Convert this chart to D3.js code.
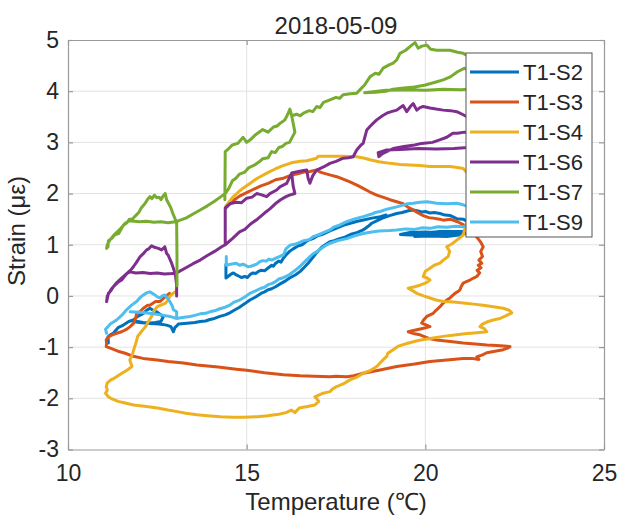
<!DOCTYPE html>
<html><head><meta charset="utf-8">
<script src="https://cdn.jsdelivr.net/npm/d3@7"></script>
<style>
body{margin:0;background:#fff}
svg{display:block}
text{font-family:"Liberation Sans",Arial,Helvetica,sans-serif;fill:#262626}
</style>
</head><body>
<svg id="chart" width="618" height="517"></svg>
<script>
const titleText = "2018-05-09";
const xLabel = "Temperature (℃)";
const yLabel = "Strain (με)";
const xTicks = [10, 15, 20, 25];
const yTicks = [-3, -2, -1, 0, 1, 2, 3, 4, 5];
const seriesNames = ["T1-S2", "T1-S3", "T1-S4", "T1-S6", "T1-S7", "T1-S9"];
const seriesColors = ["#0072BD", "#D95319", "#EDB120", "#7E2F8E", "#77AC30", "#4DBEEE"];

// [temperature, strain]; null = gap in record
const s2 = [[11.13,-0.92],[11.12,-0.8],[11.2,-0.75],[11.27,-0.73],[11.4,-0.62],[11.55,-0.57],[11.7,-0.5],[11.83,-0.47],[11.95,-0.4],[12.11,-0.34],[12.2,-0.28],[12.29,-0.24],[12.38,-0.28],[12.48,-0.31],[12.58,-0.36],[12.67,-0.4],[12.6,-0.5],[12.45,-0.52],[12.29,-0.53],[12.1,-0.52],[11.95,-0.5],[11.83,-0.5],[12.0,-0.52],[12.3,-0.54],[12.55,-0.55],[12.76,-0.57],[12.88,-0.6],[12.95,-0.7],[12.99,-0.62],[13.05,-0.58],[13.09,-0.55],[13.25,-0.54],[13.41,-0.53],[13.55,-0.52],[13.7,-0.5],[13.85,-0.49],[13.97,-0.46],[14.1,-0.44],[14.25,-0.4],[14.4,-0.37],[14.53,-0.33],[14.65,-0.28],[14.8,-0.22],[14.95,-0.15],[15.09,-0.08],[15.25,-0.02],[15.4,0.05],[15.5,0.08],[15.6,0.12],[15.7,0.14],[15.81,0.18],[15.9,0.22],[16.0,0.26],[16.1,0.3],[16.2,0.35],[16.36,0.41],[16.5,0.48],[16.6,0.55],[16.72,0.64],[16.85,0.75],[16.95,0.84],[17.1,0.95],[17.2,1.0],[17.33,1.06],[17.45,1.08],[17.6,1.12],[17.75,1.15],[17.9,1.2],[18.1,1.24],[18.26,1.29],[18.4,1.36],[18.5,1.42],[18.65,1.47],[18.8,1.52],[19.0,1.57],[19.2,1.61],[19.35,1.63],[19.45,1.65],[19.55,1.67],[19.66,1.68],[19.8,1.66],[19.9,1.64],[20.0,1.65],[20.13,1.62],[20.25,1.63],[20.41,1.61],[20.55,1.58],[20.7,1.57],[20.88,1.51],[21.06,1.5],[21.3,1.4],[21.4,1.3],[21.2,1.22],[21.06,1.22],[20.7,1.2],[20.3,1.21],[19.9,1.19],[19.57,1.19],[19.3,1.2],[19.57,1.24],[20.0,1.25],[20.5,1.23],[21.06,1.2],[20.6,1.16],[20.1,1.17],[19.7,1.16],[19.9,1.22],[20.4,1.26],[21.06,1.26],
  null,
  [14.42,0.62],[14.42,0.35],[14.55,0.42],[14.63,0.45],[14.71,0.41],[14.8,0.38],[14.85,0.36],[14.95,0.38],[15.02,0.36],[15.1,0.42],[15.18,0.45],[15.26,0.44],[15.33,0.48],[15.4,0.5],[15.5,0.49],[15.59,0.54],[15.7,0.6],[15.75,0.58],[15.81,0.64],[15.9,0.68],[15.96,0.66],[16.03,0.74],[16.1,0.8],[16.2,0.87],[16.3,0.92],[16.45,0.98],[16.55,1.0],[16.7,1.08],[16.85,1.12],[17.0,1.18],[17.15,1.21],[17.33,1.27],[17.5,1.32],[17.7,1.38],[17.9,1.42],[18.1,1.46],[18.3,1.49],[18.5,1.52],[18.7,1.54],[18.9,1.58]];

const s3 = [[14.42,1.72],[14.6,1.85],[14.8,1.95],[15.0,2.02],[15.15,2.07],[15.4,2.15],[15.6,2.2],[15.81,2.27],[16.03,2.3],[16.25,2.36],[16.4,2.38],[16.6,2.42],[16.77,2.43],[16.96,2.46],[17.05,2.42],[17.15,2.4],[17.35,2.36],[17.52,2.33],[17.7,2.28],[17.89,2.23],[18.1,2.16],[18.26,2.1],[18.45,2.03],[18.64,1.97],[18.85,1.92],[19.01,1.88],[19.2,1.84],[19.38,1.8],[19.55,1.72],[19.66,1.68],[19.8,1.62],[19.94,1.57],[20.1,1.53],[20.22,1.52],[20.4,1.5],[20.5,1.48],[20.69,1.5],[20.9,1.45],[21.1,1.38],[21.3,1.3],[21.44,1.15],[21.55,1.05],[21.62,0.96],[21.55,0.87],[21.6,0.77],[21.5,0.7],[21.58,0.64],[21.48,0.6],[21.56,0.55],[21.45,0.5],[21.52,0.45],[21.44,0.38],[21.35,0.35],[21.25,0.31],[21.15,0.28],[21.06,0.25],[21.0,0.18],[20.97,0.12],[20.9,0.08],[20.83,0.05],[20.75,0.0],[20.69,-0.04],[20.6,-0.08],[20.5,-0.14],[20.41,-0.21],[20.3,-0.28],[20.22,-0.34],[20.1,-0.38],[20.04,-0.4],[19.95,-0.47],[19.9,-0.53],[20.13,-0.6],[19.95,-0.63],[19.76,-0.66],[19.52,-0.7],[19.7,-0.74],[19.85,-0.76],[20.1,-0.83],[20.32,-0.86],[20.7,-0.89],[21.06,-0.92],[21.4,-0.94],[21.72,-0.96],[22.0,-0.97],[22.2,-0.98],[22.37,-0.99],[22.3,-1.02],[22.18,-1.05],[21.95,-1.08],[21.72,-1.11],[21.6,-1.15],[21.44,-1.19],[21.5,-1.24],[21.3,-1.22],[21.06,-1.22],[20.6,-1.25],[20.13,-1.28],[19.7,-1.33],[19.2,-1.38],[18.7,-1.45],[18.26,-1.51],[18.0,-1.56],[17.8,-1.58],[17.5,-1.57],[17.33,-1.58],[16.9,-1.57],[16.5,-1.56],[16.03,-1.54],[15.5,-1.5],[15.0,-1.45],[14.71,-1.43],[14.2,-1.39],[13.61,-1.35],[13.23,-1.31],[12.8,-1.28],[12.5,-1.25],[12.1,-1.22],[11.83,-1.18],[11.6,-1.12],[11.4,-1.08],[11.29,-1.05],[11.15,-1.01],[11.07,-0.99],[11.08,-0.92],[11.07,-0.86],[11.13,-0.8],[11.24,-0.76],[11.36,-0.73],[11.5,-0.7],[11.62,-0.66],[11.74,-0.6],[11.84,-0.53],[11.9,-0.42],[11.92,-0.34],[12.01,-0.31],[12.11,-0.24],[12.23,-0.18],[12.29,-0.18],[12.45,-0.11],[12.57,-0.11],[12.65,-0.06],[12.73,-0.01],[12.84,0.05]];

const s4 = [[14.42,1.76],[14.6,1.92],[14.8,2.05],[14.93,2.12],[15.1,2.2],[15.3,2.3],[15.59,2.41],[15.8,2.48],[16.0,2.54],[16.25,2.6],[16.5,2.63],[16.68,2.64],[16.85,2.67],[16.96,2.69],[17.0,2.73],[17.33,2.73],[17.7,2.73],[18.08,2.72],[18.3,2.69],[18.45,2.66],[18.7,2.62],[19.01,2.59],[19.3,2.57],[19.57,2.56],[19.85,2.55],[20.13,2.53],[20.4,2.53],[20.69,2.53],[20.9,2.51],[21.06,2.49],[21.3,2.3],[21.4,2.0],[21.3,1.7],[21.2,1.5],[21.1,1.3],[21.06,1.19],[20.88,1.09],[20.75,1.02],[20.6,0.96],[20.68,0.87],[20.64,0.77],[20.5,0.7],[20.41,0.64],[20.25,0.6],[20.13,0.54],[20.0,0.48],[19.94,0.38],[20.05,0.35],[20.13,0.31],[20.0,0.25],[19.85,0.21],[19.7,0.18],[19.52,0.15],[19.65,0.1],[19.76,0.05],[19.95,0.0],[20.13,-0.04],[20.3,-0.08],[20.5,-0.11],[20.8,-0.12],[21.06,-0.14],[21.35,-0.16],[21.62,-0.18],[21.9,-0.21],[22.18,-0.24],[22.35,-0.28],[22.42,-0.33],[22.25,-0.39],[22.09,-0.44],[21.9,-0.47],[21.72,-0.51],[21.6,-0.55],[21.53,-0.6],[21.65,-0.64],[21.72,-0.7],[21.44,-0.72],[21.1,-0.74],[20.88,-0.76],[20.5,-0.79],[20.13,-0.83],[19.8,-0.87],[19.48,-0.93],[19.25,-0.98],[19.1,-1.05],[18.95,-1.12],[18.92,-1.18],[18.8,-1.26],[18.64,-1.38],[18.45,-1.46],[18.26,-1.51],[18.1,-1.58],[17.89,-1.64],[17.7,-1.72],[17.52,-1.77],[17.4,-1.82],[17.33,-1.87],[17.14,-1.9],[16.91,-1.97],[17.02,-2.06],[16.91,-2.13],[16.7,-2.16],[16.47,-2.19],[16.35,-2.28],[16.25,-2.23],[16.1,-2.28],[15.9,-2.31],[15.59,-2.34],[15.3,-2.36],[14.93,-2.37],[14.6,-2.37],[14.27,-2.36],[13.9,-2.34],[13.61,-2.32],[13.3,-2.29],[13.06,-2.26],[12.8,-2.23],[12.5,-2.19],[12.2,-2.16],[11.84,-2.13],[11.6,-2.09],[11.4,-2.06],[11.2,-2.0],[11.13,-1.97],[11.05,-1.9],[11.1,-1.84],[11.07,-1.77],[11.1,-1.7],[11.2,-1.64],[11.29,-1.61],[11.4,-1.56],[11.51,-1.51],[11.65,-1.45],[11.79,-1.38],[11.73,-1.25],[11.8,-1.15],[11.84,-1.05],[11.9,-0.92],[11.95,-0.79],[12.05,-0.7],[12.17,-0.6],[12.25,-0.5],[12.34,-0.4],[12.4,-0.3],[12.5,-0.21],[12.6,-0.18],[12.73,-0.14],[12.8,-0.08],[12.85,-0.01],[12.94,0.05],[13.0,0.08]];

const s6 = [[13.04,0.0],[13.04,0.21],[13.0,0.44],[12.9,0.64],[12.8,0.8],[12.76,0.83],[12.71,0.96],[12.62,0.9],[12.53,0.93],[12.42,0.95],[12.34,0.98],[12.26,0.92],[12.2,0.9],[12.1,0.82],[12.02,0.77],[11.92,0.66],[11.83,0.57],[11.75,0.5],[11.69,0.47],[11.6,0.4],[11.5,0.31],[11.4,0.27],[11.27,0.18],[11.2,0.1],[11.13,0.05],[11.1,-0.05],[11.08,-0.11],[11.1,0.0],[11.2,0.12],[11.35,0.25],[11.5,0.35],[11.65,0.44],[11.74,0.47],[11.9,0.45],[12.1,0.46],[12.3,0.44],[12.5,0.45],[12.7,0.43],[12.9,0.44],[13.05,0.45],[13.09,0.47],[13.3,0.55],[13.5,0.63],[13.7,0.7],[13.9,0.79],[14.1,0.87],[14.3,0.96],[14.4,1.0],[14.6,1.12],[14.8,1.25],[14.95,1.3],[15.1,1.4],[15.3,1.5],[15.5,1.62],[15.65,1.7],[15.8,1.8],[15.95,1.88],[16.1,1.94],[16.2,1.97],[16.35,2.0],[16.3,2.15],[16.26,2.4],[16.12,2.2],[15.93,2.13],[15.84,2.07],[15.65,2.0],[15.56,1.94],[15.4,1.98],[15.28,2.0],[15.15,1.93],[15.0,1.91],[14.85,1.82],[14.7,1.83],[14.53,1.8],[14.4,1.72],[14.4,1.0],
  null,
  [16.26,2.4],[16.45,2.43],[16.68,2.46],[16.72,2.3],[16.77,2.2],[16.85,2.35],[16.96,2.46],[17.15,2.52],[17.33,2.59],[17.5,2.63],[17.7,2.69],[17.85,2.7],[17.98,2.72],[18.08,2.85],[18.2,2.95],[18.26,2.98],[18.36,3.24],[18.45,3.31],[18.55,3.38],[18.64,3.44],[18.8,3.52],[18.92,3.57],[19.05,3.6],[19.2,3.63],[19.3,3.68],[19.38,3.72],[19.48,3.6],[19.58,3.7],[19.66,3.76],[19.76,3.63],[19.85,3.68],[19.94,3.7],[20.13,3.67],[20.3,3.65],[20.5,3.63],[20.7,3.62],[20.88,3.6],[21.06,3.54],[21.3,3.45],[21.5,3.3],[21.55,3.2],[21.3,3.15],[21.1,3.2],[20.9,3.18],[20.77,3.18],[20.6,3.1],[20.4,3.05],[20.2,3.0],[19.9,2.98],[19.7,2.95],[19.4,2.92],[19.1,2.88],[18.92,2.82],[18.8,2.78],[18.7,2.72],[18.68,2.8],[18.9,2.85],[19.3,2.86],[19.8,2.88],[20.3,2.87],[20.8,2.88],[21.2,2.9],[21.5,2.92]];

const s7 = [[13.05,0.2],[13.05,0.8],[13.04,1.45],[13.0,1.5],[12.94,1.6],[12.88,1.72],[12.82,1.8],[12.76,1.88],[12.72,2.0],[12.66,1.95],[12.6,1.88],[12.55,1.93],[12.48,1.92],[12.42,1.97],[12.35,1.9],[12.29,1.94],[12.22,1.88],[12.15,1.8],[12.06,1.73],[11.98,1.63],[11.88,1.56],[11.8,1.5],[11.72,1.5],[11.65,1.43],[11.55,1.38],[11.5,1.32],[11.42,1.22],[11.32,1.2],[11.22,1.12],[11.13,1.08],[11.12,0.96],[11.08,0.93],[11.1,1.0],[11.18,1.1],[11.3,1.2],[11.45,1.3],[11.6,1.42],[11.72,1.47],[11.85,1.46],[12.0,1.45],[12.2,1.46],[12.4,1.44],[12.6,1.45],[12.8,1.43],[13.0,1.45],[13.1,1.47],[13.3,1.52],[13.5,1.6],[13.7,1.68],[13.9,1.76],[14.1,1.85],[14.3,1.95],[14.4,2.0],[14.5,2.1],[14.6,2.25],[14.7,2.3],[14.8,2.38],[14.95,2.42],[15.05,2.5],[15.2,2.55],[15.35,2.62],[15.45,2.68],[15.6,2.7],[15.7,2.82],[15.8,2.8],[15.9,2.9],[16.0,2.92],[16.1,2.98],[16.2,3.0],[16.35,3.2],[16.26,3.52],
  null,
  [14.39,1.88],[14.4,2.82],[14.5,2.88],[14.6,2.95],[14.75,2.98],[14.9,3.1],[15.0,3.0],[15.1,3.05],[15.25,3.15],[15.45,3.25],[15.6,3.2],[15.75,3.3],[15.85,3.32],[15.95,3.38],[16.07,3.44],[16.15,3.55],[16.21,3.65],[16.26,3.52],[16.4,3.55],[16.5,3.52],[16.59,3.57],[16.75,3.62],[16.85,3.6],[16.96,3.7],[17.05,3.68],[17.15,3.78],[17.33,3.83],[17.5,3.88],[17.6,3.86],[17.7,3.93],[17.9,3.95],[18.08,3.96],[18.2,4.05],[18.3,4.12],[18.45,4.28],[18.6,4.35],[18.7,4.33],[18.82,4.45],[19.0,4.52],[19.1,4.55],[19.2,4.61],[19.29,4.74],[19.45,4.8],[19.62,4.9],[19.71,4.95],[19.8,4.84],[19.9,4.88],[20.04,4.9],[20.15,4.82],[20.32,4.8],[20.5,4.8],[20.69,4.8],[20.9,4.76],[21.06,4.74],[21.3,4.65],[21.5,4.5],[21.6,4.4],[21.3,4.35],[21.1,4.45],[20.9,4.38],[20.7,4.28],[20.5,4.22],[20.3,4.18],[20.0,4.12],[19.7,4.08],[19.4,4.06],[19.1,4.04],[18.9,4.0],[18.6,3.98],[18.3,3.97],[18.9,4.02],[19.5,4.03],[20.0,4.02],[20.5,4.04],[21.0,4.03],[21.4,4.05]];

const s9 = [[11.08,-0.73],[11.05,-0.65],[11.12,-0.6],[11.18,-0.55],[11.36,-0.47],[11.5,-0.38],[11.64,-0.27],[11.78,-0.18],[11.92,-0.11],[12.02,-0.03],[12.11,0.02],[12.2,0.06],[12.29,0.08],[12.36,0.05],[12.43,0.02],[12.5,-0.02],[12.57,-0.04],[12.64,0.0],[12.71,0.02],[12.78,-0.04],[12.85,-0.11],[12.92,-0.2],[12.95,-0.27],[13.04,-0.31],[13.04,-0.44],[13.2,-0.42],[13.41,-0.4],[13.55,-0.38],[13.7,-0.35],[13.85,-0.34],[13.97,-0.31],[14.1,-0.29],[14.25,-0.25],[14.4,-0.22],[14.53,-0.18],[14.65,-0.12],[14.8,-0.08],[14.95,-0.02],[15.09,0.05],[15.25,0.1],[15.4,0.15],[15.5,0.17],[15.6,0.22],[15.7,0.24],[15.81,0.28],[15.9,0.33],[16.0,0.35],[16.1,0.38],[16.2,0.42],[16.36,0.5],[16.5,0.58],[16.6,0.65],[16.7,0.72],[16.85,0.82],[16.95,0.86],[17.1,0.93],[17.2,0.98],[17.33,1.03],[17.55,1.08],[17.8,1.12],[18.0,1.17],[18.26,1.22],[18.5,1.25],[18.7,1.27],[19.0,1.28],[19.2,1.29],[19.45,1.31],[19.7,1.3],[19.9,1.33],[20.13,1.32],[20.35,1.35],[20.6,1.34],[20.85,1.36],[21.06,1.35],[21.4,1.45],[21.5,1.6],[21.3,1.72],[21.06,1.78],[20.88,1.81],[20.6,1.8],[20.32,1.81],[20.15,1.83],[20.04,1.84],[19.85,1.83],[19.66,1.81],[19.5,1.8],[19.4,1.78],[19.2,1.74],[18.95,1.7],[18.73,1.65],[18.6,1.63],[18.5,1.6],[18.26,1.55],[18.1,1.52],[18.0,1.5],[17.8,1.45],[17.55,1.37],[17.45,1.35],[17.33,1.29],[17.1,1.22],[16.87,1.16],[16.75,1.1],[16.6,1.08],[16.4,1.02],[16.21,0.99],[16.1,0.92],[16.03,0.8],[15.95,0.78],[15.85,0.75],[15.7,0.7],[15.62,0.72],[15.55,0.68],[15.45,0.69],[15.37,0.67],[15.28,0.62],[15.2,0.6],[15.12,0.58],[15.04,0.57],[14.9,0.62],[14.8,0.6],[14.71,0.64],[14.55,0.62],[14.43,0.6],[14.43,0.77],
  null,
  [11.74,-0.31],[12.0,-0.32],[12.29,-0.34],[12.6,-0.37],[12.85,-0.4],[13.04,-0.44]];

const seriesData = [s2, s3, s4, s6, s7, s9];

const W = 618, H = 517;
const margin = {left: 68, right: 14, top: 40, bottom: 67.5};
const svg = d3.select("#chart");
const x = d3.scaleLinear().domain([10, 25]).range([margin.left, W - margin.right]);
const y = d3.scaleLinear().domain([-3, 5]).range([H - margin.bottom, margin.top]);
const x0 = x.range()[0], x1 = x.range()[1], y0 = y.range()[0], y1 = y.range()[1];
const fmt = d => String(d);

// grid
const grid = svg.append("g").attr("stroke", "#e3e3e3").attr("stroke-width", 1);
grid.selectAll("line.gx").data(xTicks.slice(1, -1)).join("line")
  .attr("x1", d => x(d)).attr("x2", d => x(d)).attr("y1", y1).attr("y2", y0);
grid.selectAll("line.gy").data(yTicks.slice(1, -1)).join("line")
  .attr("x1", x0).attr("x2", x1).attr("y1", d => y(d)).attr("y2", d => y(d));

// data
svg.append("defs").append("clipPath").attr("id", "clip")
  .append("rect").attr("x", x0).attr("y", y1).attr("width", x1 - x0).attr("height", y0 - y1);
const line = d3.line().defined(d => d !== null).x(d => x(d[0])).y(d => y(d[1]));
svg.append("g").attr("clip-path", "url(#clip)")
  .selectAll("path").data(seriesData).join("path")
  .attr("d", d => line(d))
  .attr("fill", "none")
  .attr("stroke", (d, i) => seriesColors[i])
  .attr("stroke-width", 3)
  .attr("stroke-linejoin", "round")
  .attr("stroke-linecap", "round");

// axes
const axisColor = "#9a9a9a";
function styleAxis(g) {
  g.select(".domain").attr("stroke", axisColor).attr("stroke-width", 1.2);
  g.selectAll(".tick line").attr("stroke", axisColor).attr("stroke-width", 1.2);
  g.selectAll(".tick text").attr("fill", "#262626").style("font-size", "23px")
    .style("font-family", '"Liberation Sans", Arial, sans-serif');
}
svg.append("g").attr("transform", `translate(0,${y0})`)
  .call(d3.axisBottom(x).tickValues(xTicks).tickFormat(fmt).tickSize(-5).tickSizeOuter(0).tickPadding(15))
  .call(styleAxis);
svg.append("g").attr("transform", `translate(0,${y1})`)
  .call(d3.axisTop(x).tickValues(xTicks).tickFormat("").tickSize(-5).tickSizeOuter(0))
  .call(styleAxis);
svg.append("g").attr("transform", `translate(${x0},0)`)
  .call(d3.axisLeft(y).tickValues(yTicks).tickFormat(fmt).tickSize(-5).tickSizeOuter(0).tickPadding(9))
  .call(styleAxis);
svg.append("g").attr("transform", `translate(${x1},0)`)
  .call(d3.axisRight(y).tickValues(yTicks).tickFormat("").tickSize(-5).tickSizeOuter(0))
  .call(styleAxis);

// title and labels
svg.append("text").attr("x", (x0 + x1) / 2).attr("y", 33.5).attr("text-anchor", "middle")
  .style("font-size", "24px").text(titleText);
svg.append("text").attr("x", (x0 + x1) / 2).attr("y", 510).attr("text-anchor", "middle")
  .style("font-size", "24px").text(xLabel);
svg.append("text").attr("transform", "translate(25,231) rotate(-90)").attr("text-anchor", "middle")
  .style("font-size", "24px").text(yLabel);

// legend
const lg = svg.append("g");
lg.append("rect").attr("x", 466).attr("y", 53).attr("width", 126).attr("height", 184)
  .attr("fill", "#fff").attr("stroke", "#555").attr("stroke-width", 1);
const items = lg.selectAll("g.item").data(seriesNames).join("g")
  .attr("transform", (d, i) => `translate(0,${72 + i * 30})`);
items.append("line").attr("x1", 470).attr("x2", 519).attr("y1", 0).attr("y2", 0)
  .attr("stroke", (d, i) => seriesColors[i]).attr("stroke-width", 3);
items.append("text").attr("x", 523).attr("y", 8).style("font-size", "22px").text(d => d);
</script>
</body></html>
